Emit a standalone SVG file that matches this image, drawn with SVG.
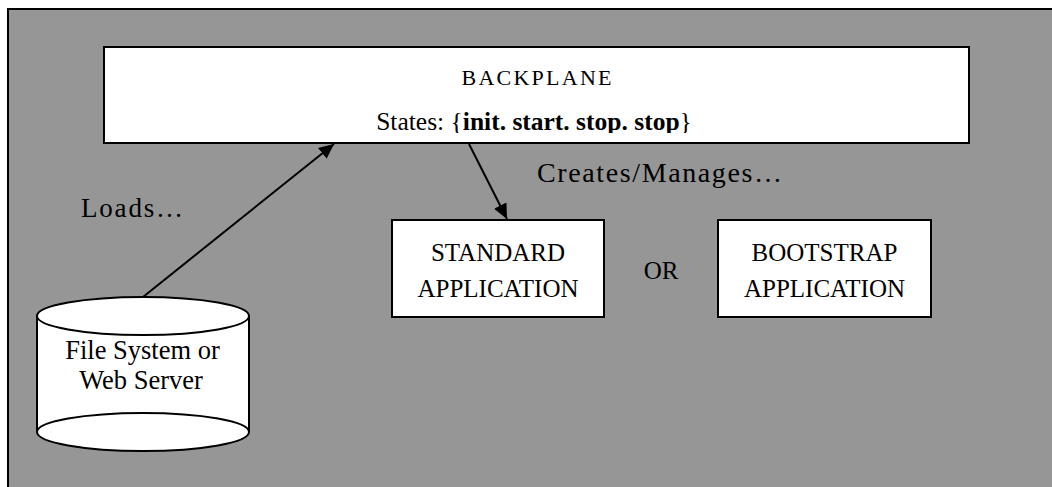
<svg xmlns="http://www.w3.org/2000/svg" width="1052" height="487" viewBox="0 0 1052 487">
<style>
.box{fill:#fff;stroke:#000;stroke-width:2}
.t{font-family:"Liberation Serif","Times New Roman",serif;fill:#000}
.edge{stroke:#000;stroke-width:2;fill:none}
</style>
<defs>
<marker id="ah" markerUnits="userSpaceOnUse" markerWidth="16" markerHeight="14" refX="15" refY="7" orient="auto">
<path d="M0,0 L15,7 L0,14 Z" fill="#000"/>
</marker>
<clipPath id="bpclip"><rect x="104" y="47" width="865" height="86"/></clipPath>
</defs>
<rect width="1052" height="487" fill="#fff"/>
<rect id="frame" x="8" y="9" width="1060" height="490" fill="#969696" stroke="#000" stroke-width="2"/>
<g id="backplane">
<rect class="box" x="104" y="47" width="865" height="96"/>
<text class="t" x="536.5" y="85" font-size="22" text-anchor="middle" textLength="150" lengthAdjust="spacing">BACKPLANE</text>
<g clip-path="url(#bpclip)">
<text class="t" x="534" y="130" font-size="25.5" text-anchor="middle">States: {<tspan font-weight="bold">init. start. stop. stop</tspan>}</text>
</g>
</g>
<g id="standard">
<rect class="box" x="392" y="220" width="212" height="97"/>
<text class="t" x="498" y="261" font-size="25" text-anchor="middle">STANDARD</text>
<text class="t" x="498" y="297" font-size="25" text-anchor="middle">APPLICATION</text>
</g>
<g id="bootstrap">
<rect class="box" x="718" y="220" width="213" height="97"/>
<text class="t" x="824.5" y="261" font-size="25" text-anchor="middle">BOOTSTRAP</text>
<text class="t" x="824.5" y="297" font-size="25" text-anchor="middle">APPLICATION</text>
</g>
<g id="or">
<text class="t" x="661" y="279" font-size="25" text-anchor="middle">OR</text>
</g>
<g id="filesystem">
<path d="M37,316 L37,432 L249,432 L249,316 Z" fill="#fff"/>
<path d="M37,316 L37,432 M249,316 L249,432" stroke="#000" stroke-width="2" fill="none"/>
<ellipse cx="143" cy="432" rx="106" ry="19" fill="#fff" stroke="#000" stroke-width="2"/>
<ellipse cx="143" cy="316" rx="106" ry="19" fill="#fff" stroke="#000" stroke-width="2"/>
<text class="t" x="142.5" y="359" font-size="26.5" text-anchor="middle">File System or</text>
<text class="t" x="141" y="389" font-size="26.5" text-anchor="middle">Web Server</text>
</g>
<g id="connectors">
<line class="edge" x1="143" y1="297" x2="334" y2="144" marker-end="url(#ah)"/>
<line class="edge" x1="469" y1="144" x2="507" y2="219" marker-end="url(#ah)"/>
<text class="t" x="81" y="217" font-size="27" textLength="102" lengthAdjust="spacing">Loads…</text>
<text class="t" x="537" y="182" font-size="28" textLength="245" lengthAdjust="spacing">Creates/Manages…</text>
</g>
</svg>
